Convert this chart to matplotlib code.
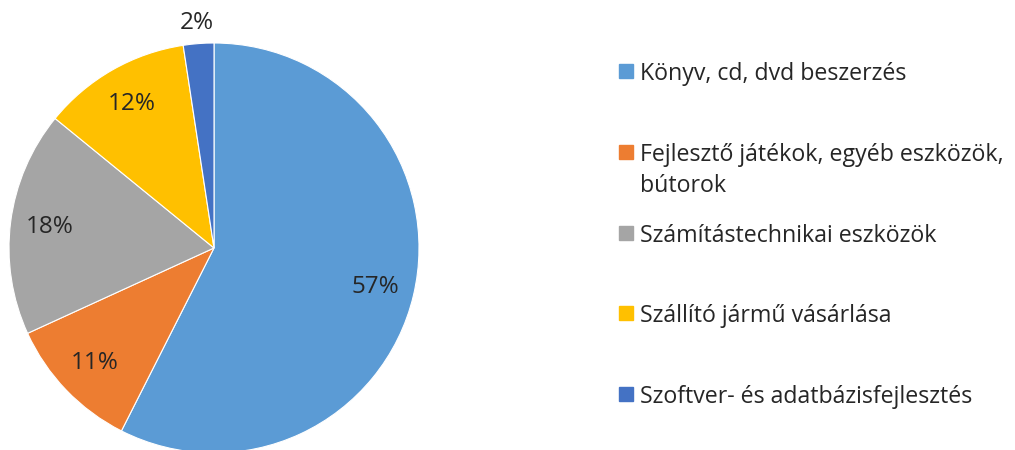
import matplotlib
matplotlib.use("Agg")
import matplotlib.pyplot as plt
import numpy as np
from matplotlib.patches import Rectangle

plt.rcParams['font.family'] = ['Open Sans', 'DejaVu Sans']

# data (share of spending, %)
categories = [
    "Könyv, cd, dvd beszerzés",
    "Fejlesztő játékok, egyéb eszközök,\nbútorok",
    "Számítástechnikai eszközök",
    "Szállító jármű vásárlása",
    "Szoftver- és adatbázisfejlesztés",
]
shares = [57.4, 10.7, 17.7, 11.7, 2.4]
colors = ["#5B9BD5", "#ED7D31", "#A5A5A5", "#FFC000", "#4472C4"]

W, H = 1015, 450
fig = plt.figure(figsize=(W / 100, H / 100), dpi=100)

# pie: center (214, 248) px from top, radius 205 px
cx, cy, r = 214, 450 - 248, 205
ax = fig.add_axes([(cx - r) / W, (cy - r) / H, 2 * r / W, 2 * r / H])
wedges, texts, autotexts = ax.pie(
    shares, colors=colors, startangle=90, counterclock=False,
    autopct=lambda p: f"{p:.0f}%", pctdistance=0.81,
    wedgeprops=dict(edgecolor="white", linewidth=0.8),
    textprops=dict(fontsize=17.5, color="#262626"),
)
ax.set_xlim(-1, 1)
ax.set_ylim(-1, 1)
ax.set_aspect("equal")
ax.axis("off")

# smallest slice: label sits outside the pie
w = wedges[-1]
mid = np.deg2rad((w.theta1 + w.theta2) / 2)
autotexts[-1].set_position((1.1 * np.cos(mid), 1.1 * np.sin(mid)))

# legend drawn by hand so the marker lines up with the first text line
legend_y = [71, 152, 233, 313, 394]
line_gap = 31
for name, col, yy in zip(categories, colors, legend_y):
    fig.patches.append(Rectangle((619 / W, (450 - yy - 7) / H), 14 / W, 14 / H,
                                 transform=fig.transFigure, color=col))
    for i, line in enumerate(name.split("\n")):
        fig.text(640 / W, (450 - yy - i * line_gap) / H, line, fontsize=16.7,
                 color="#262626", va="center_baseline", ha="left")

fig.savefig("out.png", dpi=100)
